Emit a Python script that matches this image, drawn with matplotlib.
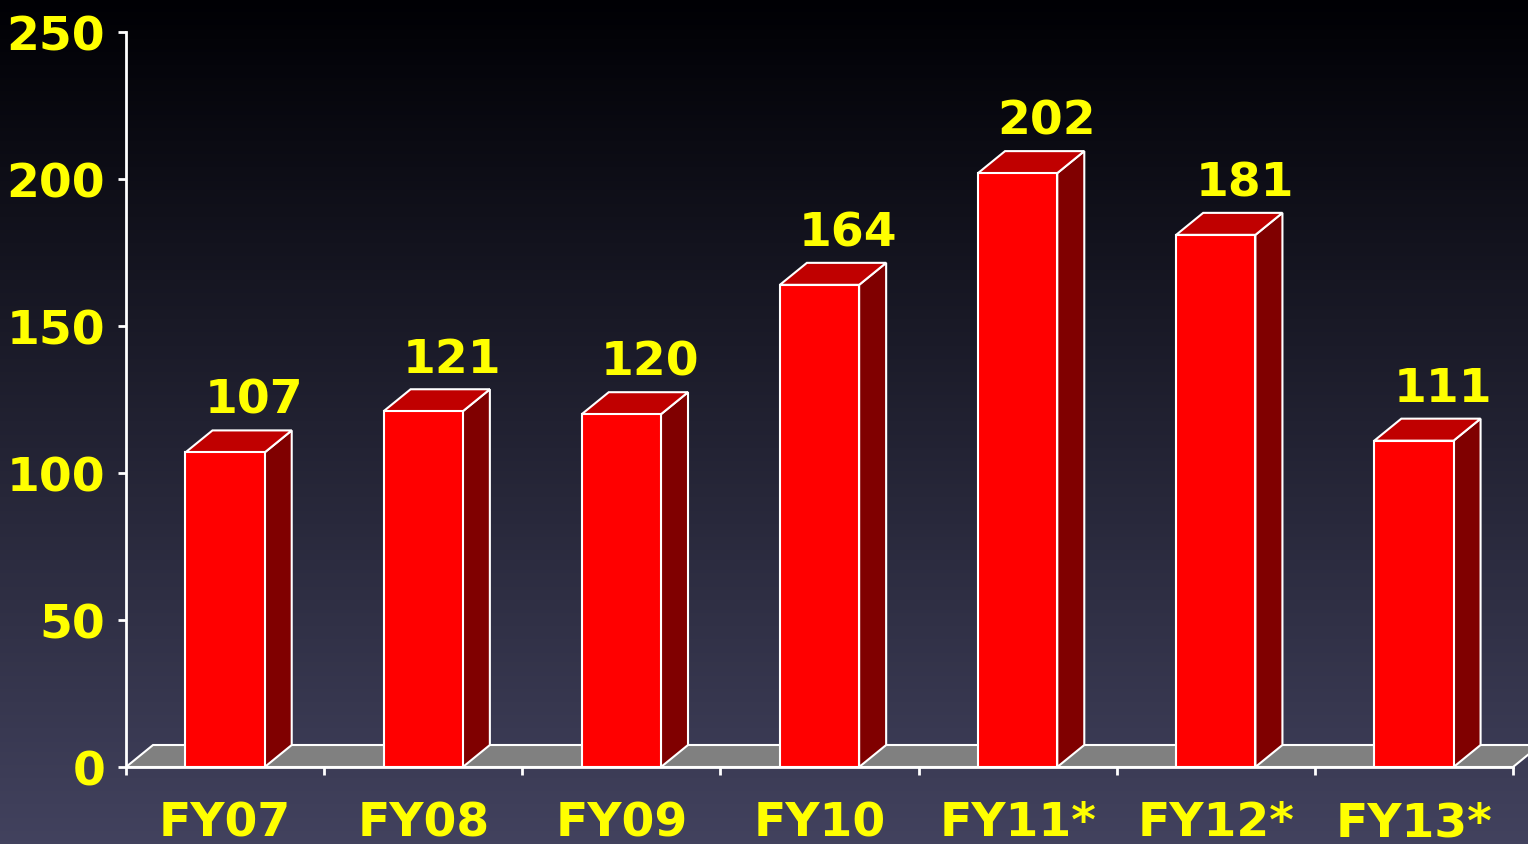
import numpy as np
import matplotlib
matplotlib.use("Agg")
import matplotlib.pyplot as plt
from matplotlib.patches import Polygon

categories = ["FY07", "FY08", "FY09", "FY10", "FY11*", "FY12*", "FY13*"]
values = [107, 121, 120, 164, 202, 181, 111]
yticks = [0, 50, 100, 150, 200, 250]

W, H = 1528, 845
fig = plt.figure(figsize=(W / 100, H / 100), dpi=100)

# background gradient
bg = fig.add_axes([0, 0, 1, 1], zorder=-10)
bg.axis("off")
top = np.array([0, 0, 4]) / 255
bot = np.array([66, 66, 94]) / 255
t = np.linspace(0, 1, 256)[:, None]
grad = top + (bot - top) * t
bg.imshow(grad[:, None, :].repeat(2, axis=1), aspect="auto", extent=[0, 1, 0, 1], origin="upper")
bg.set_xlim(0, 1); bg.set_ylim(0, 1)

ax = fig.add_axes([126 / W, 1 - 768 / H, (1513 - 126) / W, (768 - 33) / H])
ax.set_facecolor("none")
n = len(categories)
ax.set_xlim(0, n)
ax.set_ylim(0, 250)

dx = 27 / 198          # depth offset in category units
dy = 22 / 2.94         # depth offset in value units
bw = 0.4
yellow = "#FFFF00"
fs = 34

# floor
floor = Polygon([(0, 0), (n, 0), (n + dx, dy), (dx, dy)], closed=True,
                facecolor="#808080", edgecolor="white", lw=1.5, zorder=1, clip_on=False)
ax.add_patch(floor)

xs = np.arange(n) + 0.5
ax.bar(xs, values, width=bw, color="#FF0000", edgecolor="white", lw=1.5, zorder=5)
for x, v in zip(xs, values):
    l, r = x - bw / 2, x + bw / 2
    side = Polygon([(r, 0), (r + dx, dy), (r + dx, v + dy), (r, v)], closed=True,
                   facecolor="#800000", edgecolor="white", lw=1.5, zorder=4, clip_on=False)
    topf = Polygon([(l, v), (r, v), (r + dx, v + dy), (l + dx, v + dy)], closed=True,
                   facecolor="#C00000", edgecolor="white", lw=1.5, zorder=4, clip_on=False)
    ax.add_patch(side); ax.add_patch(topf)
    ax.text(x + 0.145, v + 13.5, str(v), color=yellow, fontsize=fs, fontweight="bold",
            ha="center", va="baseline", zorder=6)

for s in ["top", "right"]:
    ax.spines[s].set_visible(False)
for s in ["left", "bottom"]:
    ax.spines[s].set_color("white")
    ax.spines[s].set_linewidth(2)
    ax.spines[s].set_zorder(7)

ax.set_yticks(yticks)
ax.set_yticklabels([str(v) for v in yticks])
ax.set_xticks(np.arange(n + 1))
ax.set_xticklabels([])
ax.set_xticks(xs, minor=True)
ax.set_xticklabels(categories, minor=True)
ax.tick_params(axis="x", which="major", colors="white", length=6, width=2, direction="out")
ax.tick_params(axis="x", which="minor", length=0, pad=24, labelcolor=yellow, labelsize=fs)
ax.tick_params(axis="y", colors="white", length=6, width=2, pad=9, labelcolor=yellow, labelsize=fs)
for lbl in ax.get_xticklabels(minor=True) + ax.get_yticklabels():
    lbl.set_fontweight("bold")

fig.savefig("out.png", dpi=100)
